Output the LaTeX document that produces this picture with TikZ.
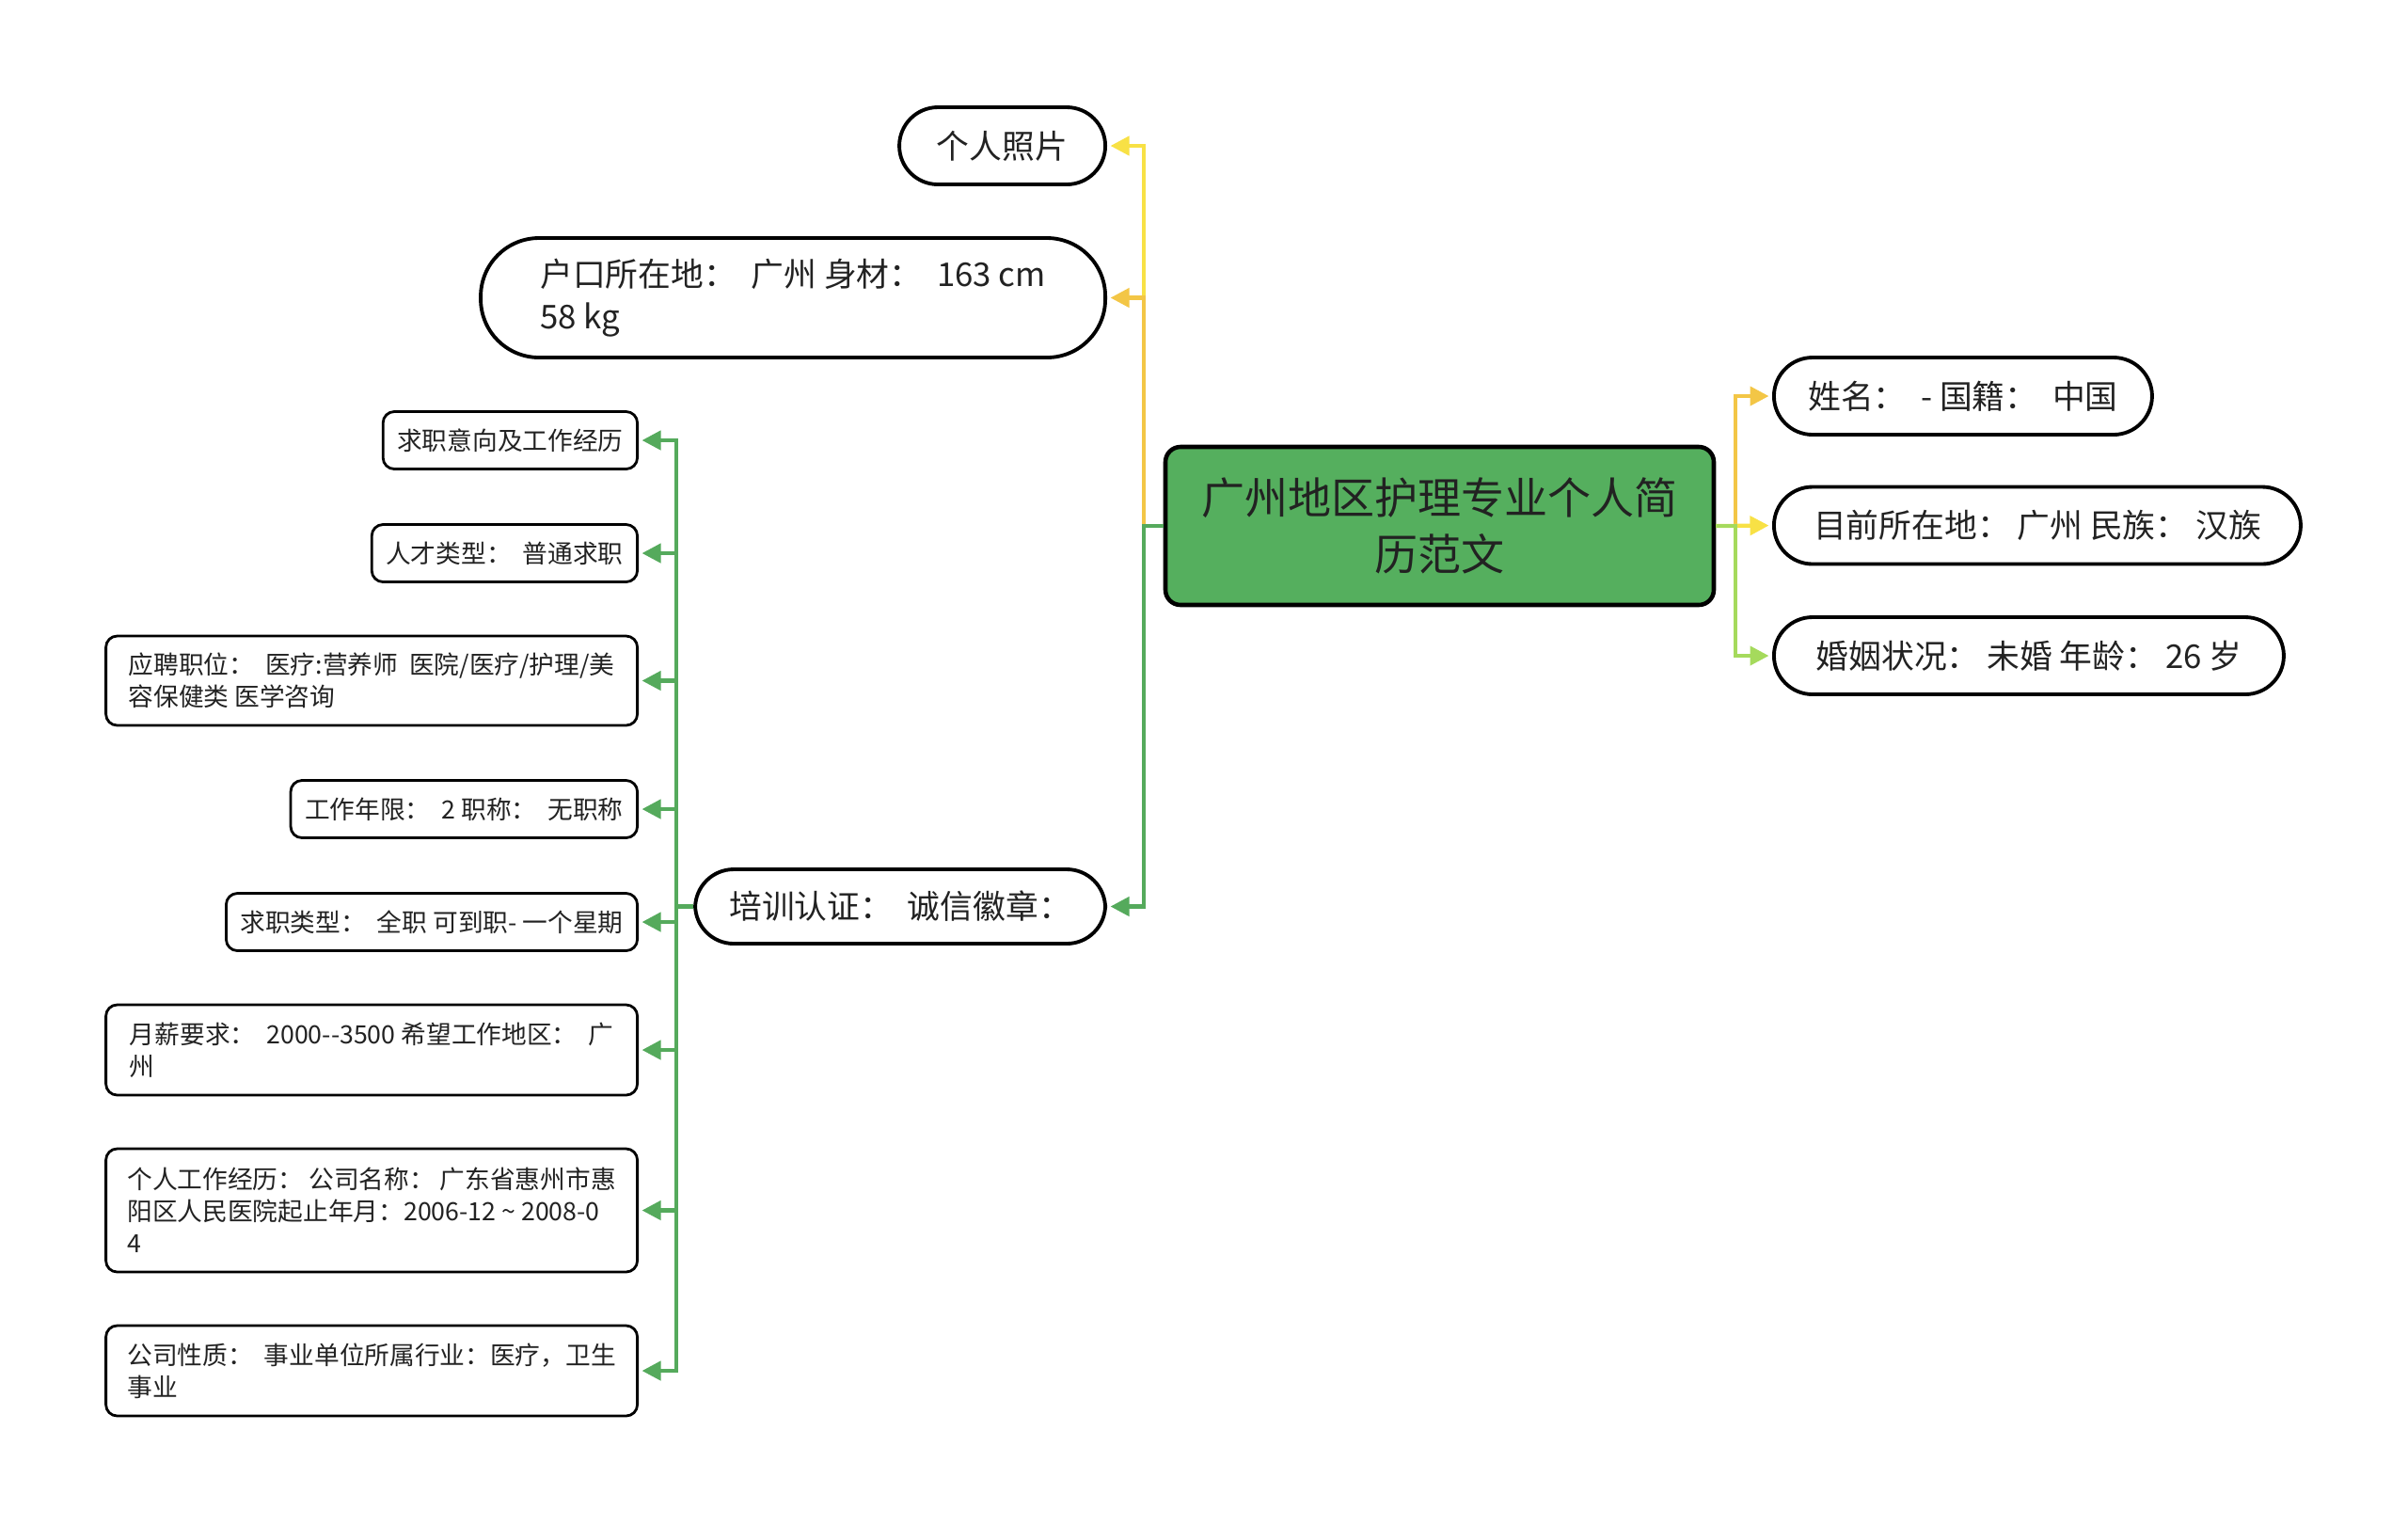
\documentclass[tikz,border=0pt]{standalone}
\usepackage{fontspec}
\setmainfont{Noto Sans CJK SC}
\usetikzlibrary{arrows.meta, positioning, calc}
\definecolor{rootc}{HTML}{55AF5E}
\definecolor{inkc}{HTML}{222222}
\definecolor{ylwc}{HTML}{F8E145}
\definecolor{ambc}{HTML}{F3C646}
\definecolor{grnc}{HTML}{55AA5C}
\definecolor{limec}{HTML}{A5DA5C}
\tikzset{
  root/.style={draw=black, fill=rootc, line width=1.3pt, rounded corners=0.16cm, align=center,
               text=inkc, font=\fontsize{13.1}{17.1}\selectfont, minimum width=5.83cm,
               minimum height=1.68cm, inner sep=0pt},
  pill/.style={draw=black, fill=white, line width=1.1pt, rounded corners=0.41cm, text=inkc,
               font=\fontsize{9.9}{13}\selectfont, minimum height=0.82cm, inner xsep=0.36cm,
               inner ysep=0pt},
  card/.style={draw=black, fill=white, line width=0.8pt, rounded corners=0.12cm, text=inkc,
               font=\fontsize{7.6}{9.7}\selectfont, minimum height=0.61cm, inner xsep=0.15cm,
               inner ysep=0pt},
  wide/.style={card, align=left, minimum width=5.65cm},
  link/.style={line width=1.2pt, -{Triangle[length=2mm, width=2mm]}, shorten >=1pt},
}

\begin{document}
\begin{tikzpicture}[x=1cm, y=1cm]
\useasboundingbox (0,0) rectangle (25.6,-16.21);

% centre
\node[root] (root) at (15.305,-5.59) {广州地区护理专业个人简\\历范文};

% left, upper branches
\node[pill, anchor=east, minimum width=2.19cm] (photo) at (11.77,-1.55) {个人照片};
\node[pill, anchor=east, rounded corners=0.62cm, minimum height=1.27cm, minimum width=6.64cm,
      align=left] (hukou) at (11.77,-3.165)
      {户口所在地：\ \ 广州 身材：\ \ 163 cm\\58 kg};
\node[pill, anchor=east, minimum width=4.36cm, minimum height=0.79cm] (train) at (11.77,-9.635)
      {培训认证：\ \ 诚信徽章：};

% right branches
\node[pill, anchor=west, minimum width=4.02cm] (name) at (18.84,-4.21) {姓名：\ \ - 国籍：\ \ 中国};
\node[pill, anchor=west, minimum width=5.60cm] (loc) at (18.84,-5.585) {目前所在地：\ 广州 民族：\ 汉族};
\node[pill, anchor=west, minimum width=5.42cm] (marry) at (18.84,-6.97) {婚姻状况：\ 未婚 年龄：\ 26 岁};

% the training items
\node[card, anchor=east] (c1) at (6.79,-4.68) {求职意向及工作经历};
\node[card, anchor=east] (c2) at (6.79,-5.88) {人才类型：\ \ 普通求职};
\node[wide, anchor=east, minimum height=0.95cm] (c3) at (6.79,-7.235)
      {应聘职位：\ \ 医疗:营养师\ \ 医院/医疗/护理/美\\容保健类 医学咨询};
\node[card, anchor=east] (c4) at (6.79,-8.6) {工作年限：\ \ 2 职称：\ \ 无职称};
\node[card, anchor=east] (c5) at (6.79,-9.8) {求职类型：\ \ 全职 可到职- 一个星期};
\node[wide, anchor=east, minimum height=0.96cm] (c6) at (6.79,-11.16)
      {月薪要求：\ \ 2000-{}-3500 希望工作地区：\ \ 广\\州};
\node[wide, anchor=east, minimum height=1.31cm] (c7) at (6.79,-12.865)
      {个人工作经历：\ 公司名称：\ 广东省惠州市惠\\阳区人民医院起止年月：2006-12 \textasciitilde{} 2008-0\\4};
\node[wide, anchor=east, minimum height=0.96cm] (c8) at (6.79,-14.57)
      {公司性质：\ \ 事业单位所属行业：医疗，卫生\\事业};

% buses
\coordinate (lbus) at (12.16,0);
\coordinate (rbus) at (18.45,0);
\coordinate (cbus) at (7.19,0);

\draw[link, ylwc] (root.west) -- (root.west -| lbus) |- (photo.east);
\draw[link, ambc] (root.west) -- (root.west -| lbus) |- (hukou.east);
\draw[link, grnc] (root.west) -- (root.west -| lbus) |- (train.east);

\draw[link, ambc] (root.east) -- (root.east -| rbus) |- (name.west);
\draw[link, ylwc] (root.east) -- (loc.west);
\draw[link, limec] (root.east) -- (root.east -| rbus) |- (marry.west);

\foreach \c in {c1,c2,c3,c4,c5,c6,c7,c8} {
  \draw[link, grnc] (train.west) -- (train.west -| cbus) |- (\c.east);
}
\end{tikzpicture}
\end{document}
